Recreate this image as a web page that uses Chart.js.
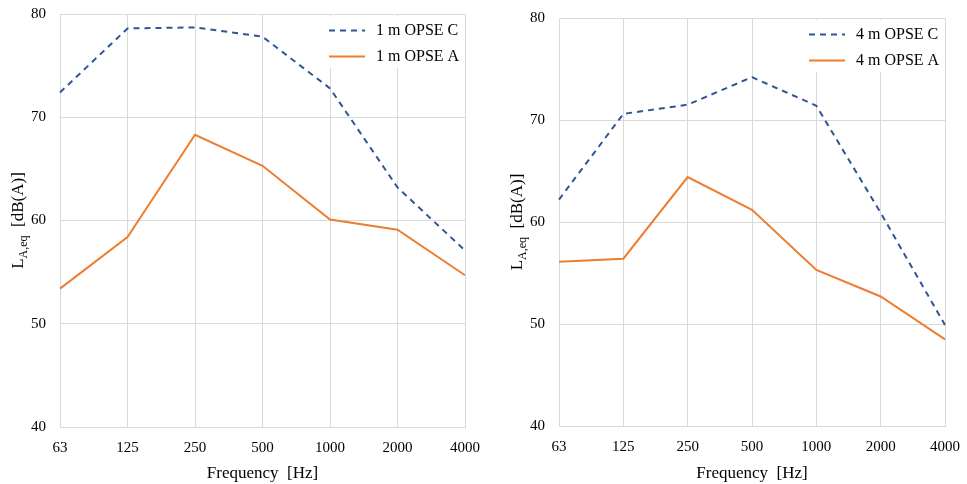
<!DOCTYPE html>
<html>
<head>
<meta charset="utf-8">
<script src="https://cdn.jsdelivr.net/npm/chart.js@4"></script>
<style>
  html, body { margin: 0; padding: 0; background: #fff; }
  #wrap { position: relative; width: 967px; height: 484px; }
  .box { position: absolute; top: 0; height: 484px; }
</style>
</head>
<body>
<div id="wrap">
  <div class="box" style="left:0;width:483px"><canvas id="left"></canvas></div>
  <div class="box" style="left:487px;width:480px"><canvas id="right"></canvas></div>
</div>
<script>
const frequencies = ["63", "125", "250", "500", "1000", "2000", "4000"];

const opseC1m = [72.4, 78.6, 78.7, 77.8, 72.8, 63.2, 57.1];
const opseA1m = [53.4, 58.4, 68.3, 65.3, 60.1, 59.1, 54.7];

const opseC4m = [62.2, 70.6, 71.5, 74.2, 71.4, 60.9, 49.9];
const opseA4m = [56.1, 56.4, 64.4, 61.2, 55.3, 52.7, 48.5];

const yTicks = [40, 50, 60, 70, 80];

const blue = "#2f5597";
const orange = "#ed7d31";
const gridColor = "#d9d9d9";
const fontFamily = "'Liberation Serif', 'DejaVu Serif', serif";

Chart.defaults.font.family = fontFamily;
Chart.defaults.color = "#000";

// legend drawn inside the plot, top right, on a white box
const innerLegend = {
    id: "innerLegend",
    afterDatasetsDraw(chart) {
        const ctx = chart.ctx;
        const area = chart.chartArea;
        const x0 = area.right - 136;
        ctx.save();
        ctx.fillStyle = "#fff";
        ctx.fillRect(x0 - 2, area.top + 2, area.right - x0 + 1, 52);
        chart.data.datasets.forEach(function (ds, i) {
            const y = area.top + 16.5 + i * 26;
            ctx.strokeStyle = ds.borderColor;
            ctx.lineWidth = 2;
            ctx.setLineDash(ds.borderDash || []);
            ctx.beginPath();
            ctx.moveTo(x0, y);
            ctx.lineTo(x0 + 36, y);
            ctx.stroke();
            ctx.setLineDash([]);
            ctx.fillStyle = "#000";
            ctx.font = "16px " + fontFamily;
            ctx.textBaseline = "middle";
            ctx.textAlign = "left";
            ctx.fillText(ds.label, x0 + 47, y + 0.5);
        });
        ctx.restore();
    }
};

// y axis title with subscript: L_A,eq [dB(A)]
const yTitle = {
    id: "yTitle",
    afterDraw(chart) {
        const ctx = chart.ctx;
        const area = chart.chartArea;
        const cx = area.left - 41;
        const cy = (area.top + area.bottom) / 2;
        const big = "17px " + fontFamily;
        const small = "12px " + fontFamily;
        ctx.save();
        ctx.translate(cx, cy);
        ctx.rotate(-Math.PI / 2);
        ctx.fillStyle = "#000";
        ctx.textBaseline = "middle";
        ctx.textAlign = "left";
        ctx.font = big;
        const w1 = ctx.measureText("L").width;
        ctx.font = small;
        const w2 = ctx.measureText("A,eq").width;
        ctx.font = big;
        const w3 = ctx.measureText("  [dB(A)]").width;
        let x = -(w1 + w2 + w3) / 2;
        ctx.font = big;
        ctx.fillText("L", x, 0);
        x += w1;
        ctx.font = small;
        ctx.fillText("A,eq", x, 5);
        x += w2;
        ctx.font = big;
        ctx.fillText("  [dB(A)]", x, 0);
        ctx.restore();
    }
};

function makeChart(id, labelC, dataC, labelA, dataA, yWidth, xHeight, pad) {
    const el = document.getElementById(id);
    new Chart(el, {
        type: "line",
        data: {
            labels: frequencies,
            datasets: [{
                label: labelC,
                data: dataC,
                borderColor: blue,
                borderWidth: 2,
                borderDash: [6, 5],
                pointRadius: 0,
                tension: 0,
                fill: false
            }, {
                label: labelA,
                data: dataA,
                borderColor: orange,
                borderWidth: 2,
                pointRadius: 0,
                tension: 0,
                fill: false
            }]
        },
        options: {
            responsive: true,
            maintainAspectRatio: false,
            animation: false,
            layout: { padding: pad },
            plugins: {
                legend: { display: false },
                tooltip: { enabled: false }
            },
            scales: {
                x: {
                    offset: false,
                    grid: { color: gridColor, lineWidth: 1, drawTicks: false },
                    border: { color: gridColor },
                    ticks: { font: { size: 15 }, padding: 12, maxRotation: 0, autoSkip: false },
                    title: {
                        display: true,
                        text: "Frequency  [Hz]",
                        font: { size: 17 },
                        padding: { top: 0, bottom: 0 }
                    },
                    afterFit(scale) {
                        scale.height = xHeight;
                        scale.paddingLeft = 0;
                        scale.paddingRight = 0;
                    }
                },
                y: {
                    min: yTicks[0],
                    max: yTicks[yTicks.length - 1],
                    afterBuildTicks(scale) {
                        scale.ticks = yTicks.map(v => ({ value: v }));
                    },
                    grid: { color: gridColor, lineWidth: 1, drawTicks: false },
                    border: { color: gridColor },
                    ticks: { font: { size: 15 }, padding: 14 },
                    afterFit(scale) {
                        scale.width = yWidth;
                        scale.paddingTop = 0;
                        scale.paddingBottom = 0;
                    }
                }
            }
        },
        plugins: [innerLegend, yTitle]
    });
}

makeChart("left", "1 m OPSE C", opseC1m, "1 m OPSE A", opseA1m, 60, 57,
    { top: 14, right: 18, bottom: 0, left: 0 });
makeChart("right", "4 m OPSE C", opseC4m, "4 m OPSE A", opseA4m, 72, 58,
    { top: 18, right: 22, bottom: 0, left: 0 });
</script>
</body>
</html>
